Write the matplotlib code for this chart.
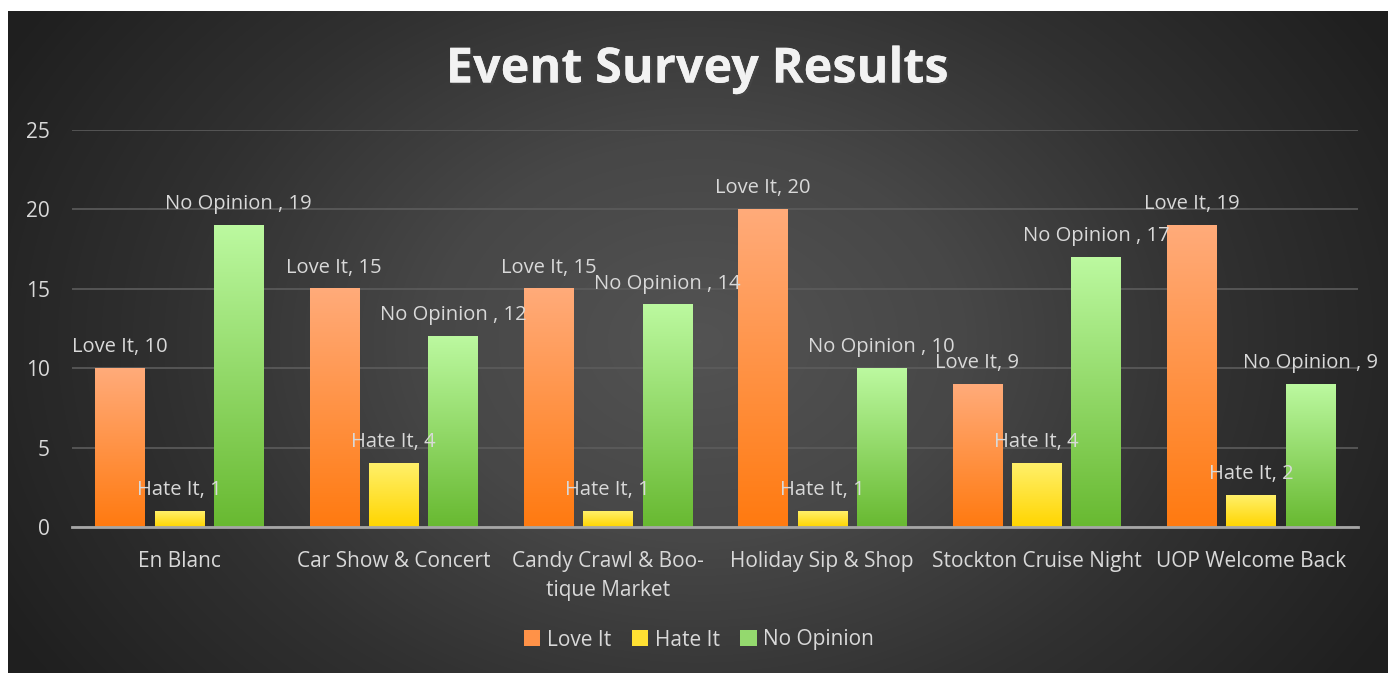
import numpy as np
import matplotlib
matplotlib.use('Agg')
import matplotlib.pyplot as plt
from matplotlib.colors import LinearSegmentedColormap
import matplotlib.patheffects as pe
from matplotlib.patches import Patch

# chart data
events = ['En Blanc', 'Car Show & Concert', 'Candy Crawl & Boo-\ntique Market',
          'Holiday Sip & Shop', 'Stockton Cruise Night', 'UOP Welcome Back']
series = ['Love It', 'Hate It', 'No Opinion']
love_it = [10, 15, 15, 20, 9, 19]
hate_it = [1, 4, 1, 1, 4, 2]
no_opinion = [19, 12, 14, 10, 17, 9]
label_names = ['Love It', 'Hate It', 'No Opinion ']

# gradients (top colour, bottom colour)
grads = [('#ffab7a', '#ff7a10'), ('#fff06a', '#ffd500'), ('#bcf9a0', '#68b931')]

plt.rcParams['font.family'] = ['Open Sans', 'DejaVu Sans']
W, H = 1393, 673
fig = plt.figure(figsize=(W / 100, H / 100), dpi=100)
fig.patch.set_facecolor('white')

# dark radial background panel
bg = fig.add_axes([8 / W, 0, 1380 / W, 662 / H])
bg.set_axis_off()
yy, xx = np.mgrid[0:662, 0:1380]
r = np.sqrt(((xx - 690) / 800.0) ** 2 + ((yy - 330) / 600.0) ** 2)
r = np.clip(r, 0, 1)
bgmap = LinearSegmentedColormap.from_list('bg', ['#535353', '#474747', '#303030', '#1f1f1f'])
bg.imshow(r, cmap=bgmap, aspect='auto', extent=[0, 1, 0, 1], vmin=0, vmax=1)
bg.set_xlim(0, 1)
bg.set_ylim(0, 1)

ax = fig.add_axes([72 / W, (H - 527) / H, 1286 / W, 397 / H])
ax.patch.set_alpha(0)

x = np.arange(len(events))
width = 0.229
offsets = [-0.277, 0, 0.277]
values = [love_it, hate_it, no_opinion]

for vals, off, (top, bot), name in zip(values, offsets, grads, label_names):
    cmap = LinearSegmentedColormap.from_list(name, [bot, top])
    bars = ax.bar(x + off, vals, width, color='none', zorder=3)
    for b, v in zip(bars, vals):
        x0, y0, w, h = b.get_x(), b.get_y(), b.get_width(), b.get_height()
        grad = np.linspace(0, 1, 256).reshape(-1, 1)
        ax.imshow(grad, cmap=cmap, aspect='auto', origin='lower',
                  extent=[x0, x0 + w, y0, y0 + h], zorder=3)
        ax.text(x0 + w / 2, v + 0.7, f'{name}, {v}', ha='center', va='bottom',
                fontsize=14.5, color='#d9d9d9', zorder=5)

ax.set_xlim(-0.5, len(events) - 0.5)
ax.set_ylim(0, 25)
ax.set_yticks(range(0, 26, 5))
ax.set_xticks(x)
ax.set_xticklabels(events, fontsize=15, color='#d9d9d9', linespacing=1.55)
ax.tick_params(axis='y', colors='#d9d9d9', labelsize=15, length=0, pad=16)
ax.tick_params(axis='x', length=0, pad=17)
ax.grid(axis='y', color='#5c5c5c', linewidth=1.2, zorder=0)
for s in ['top', 'right', 'left']:
    ax.spines[s].set_visible(False)
ax.spines['bottom'].set_color('#a6a6a6')
ax.spines['bottom'].set_linewidth(2)
ax.spines['bottom'].set_zorder(4)

fig.text(697 / W, 1 - 70 / H, 'Event Survey Results', ha='center', va='center',
         fontsize=35, fontweight='bold', color='#f2f2f2',
         path_effects=[pe.withSimplePatchShadow(offset=(1.5, -1.5), alpha=0.5), pe.Normal()])

handles = [Patch(facecolor=c, edgecolor='none') for c in ['#ff9248', '#ffe033', '#94d96e']]
fig.legend(handles, series, loc='center', bbox_to_anchor=(699 / W, 1 - 640 / H),
           ncol=3, frameon=False, fontsize=15, labelcolor='#d9d9d9',
           handlelength=0.8, handleheight=0.8, handletextpad=0.3, columnspacing=1.0)

fig.savefig('out.png', dpi=100, facecolor='white')
